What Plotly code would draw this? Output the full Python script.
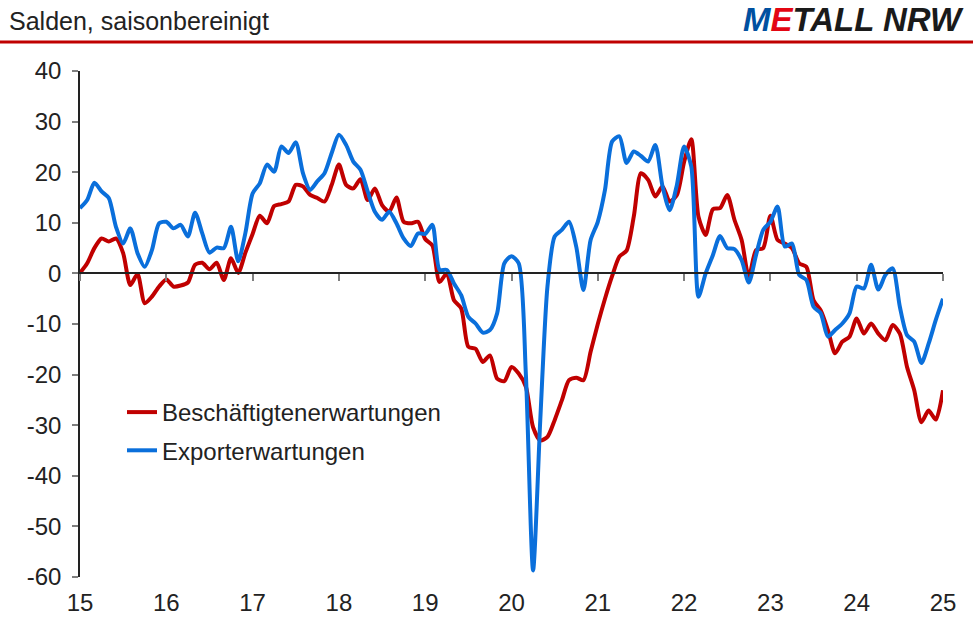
import plotly.graph_objects as go

# monthly observations Jan 2015 .. Jan 2025
start_year = 15
beschaeftigung = [
    0.1, 2.0, 5.0, 6.9, 6.3, 6.9, 4.0, -2.3, -0.1, -5.9, -4.6, -2.6,
    -1.2, -2.6, -2.4, -1.8, 1.7, 2.1, 0.8, 2.1, -1.3, 3.0, 0.1, 4.1,
    7.8, 11.4, 9.9, 13.3, 13.7, 14.2, 17.5, 17.2, 15.5, 14.9, 14.2, 17.5,
    21.5, 17.5, 16.8, 18.6, 14.5, 16.8, 13.5, 12.2, 15.0, 10.2, 9.9, 10.2,
    6.8, 5.5, -1.7, 0.0, -5.3, -6.9, -14.5, -14.9, -17.5, -16.2, -20.8, -21.3,
    -18.5, -19.8, -22.4, -30.4, -33.0, -32.3, -29.0, -25.1, -21.1, -20.6, -21.1, -15.5,
    -10.0, -5.0, -0.5, 3.3, 4.5, 11.2, 19.8, 18.5, 15.2, 17.2, 14.2, 15.5,
    22.0, 26.5, 11.2, 7.6, 12.7, 12.9, 15.5, 10.6, 6.6, -0.7, 4.6, 5.0,
    11.4, 6.6, 5.9, 5.0, 2.0, 1.3, -5.3, -7.3, -11.2, -15.8, -13.5, -12.5,
    -8.9, -11.9, -9.9, -11.9, -13.2, -10.2, -11.9, -18.5, -23.1, -29.4, -27.1, -28.9,
    -23.1,
]
export = [
    12.9, 14.5, 17.9, 16.2, 14.9, 9.2, 5.9, 8.9, 4.0, 1.3, 4.6, 9.9,
    10.2, 8.9, 9.6, 7.3, 12.0, 7.9, 4.1, 5.1, 5.0, 9.2, 2.4, 8.0,
    15.8, 17.8, 21.5, 20.1, 25.1, 23.8, 25.9, 19.8, 16.5, 18.2, 19.8, 23.8,
    27.4, 25.4, 22.1, 20.5, 16.2, 12.2, 10.6, 12.2, 9.9, 6.9, 5.4, 7.9,
    7.8, 9.6, 0.7, 0.7, -2.0, -4.3, -8.6, -9.9, -11.7, -11.2, -7.9, 2.0,
    3.4, 2.0, -20.0, -58.7, -29.0, -2.6, 7.3, 8.6, 10.2, 5.3, -3.3, 6.6,
    10.2, 16.5, 26.1, 27.1, 21.8, 24.1, 23.2, 22.1, 25.4, 17.2, 12.5, 17.5,
    25.1, 21.1, -4.6, 0.0, 3.6, 7.4, 5.0, 4.8, 2.6, -1.8, 3.6, 8.6,
    10.2, 13.2, 5.3, 5.9, -0.3, -1.3, -6.6, -7.9, -12.5, -11.2, -9.9, -7.9,
    -2.6, -3.0, 1.7, -3.2, -0.3, 1.0, -6.6, -12.2, -13.5, -17.7, -13.9, -9.2,
    -5.0,
]
year_ticks = list(range(15, 26))
year_labels = [str(y) for y in year_ticks]
y_ticks = list(range(-60, 41, 10))
y_labels = [str(v) for v in y_ticks]  # plain hyphen-minus like the original
series_names = ["Beschäftigtenerwartungen", "Exporterwartungen"]

x = [start_year + i / 12 for i in range(len(export))]

RED = "#C00000"
BLUE = "#0A6FDB"
FONT = "Liberation Sans, Arial, sans-serif"

fig = go.Figure()
fig.add_trace(go.Scatter(x=x, y=beschaeftigung, name=series_names[0], mode="lines",
                         legendgroup="a",
                         line=dict(color=RED, width=4, shape="spline", smoothing=0.7)))
fig.add_trace(go.Scatter(x=x, y=export, name=series_names[1], mode="lines",
                         legendgroup="b",
                         line=dict(color=BLUE, width=4, shape="spline", smoothing=0.7)))
# invisible trace to carry the zero-line axis
fig.add_trace(go.Scatter(x=[year_ticks[0]], y=[0], xaxis="x2", mode="lines",
                         showlegend=False, hoverinfo="skip", line=dict(width=0)))

ymin, ymax = -60, 40
fig.update_layout(
    width=973, height=617,
    margin=dict(l=80, r=30, t=71, b=40),
    paper_bgcolor="white", plot_bgcolor="white",
    font=dict(family=FONT, size=24, color="#222222"),
    xaxis=dict(range=[15, 25], tickvals=year_ticks, ticktext=year_labels,
               showline=False, ticks="", showgrid=False, zeroline=False,
               automargin=False, ticklabelstandoff=9, tickfont=dict(size=24)),
    xaxis2=dict(range=[15, 25], overlaying="x", anchor="free",
                position=(0 - ymin) / (ymax - ymin), side="bottom",
                showline=True, linecolor="#222222", linewidth=1.5,
                ticks="outside", ticklen=7, tickwidth=1.5, tickcolor="#7f7f7f",
                tickvals=year_ticks, showticklabels=False, showgrid=False, zeroline=False),
    yaxis=dict(range=[ymin, ymax], tickvals=y_ticks, ticktext=y_labels,
               showline=True, linecolor="#222222", linewidth=1.5, automargin=False,
               ticks="outside", ticklen=6, tickcolor="#7f7f7f", tickwidth=1.5,
               ticklabelstandoff=6,
               showgrid=False, zeroline=False, tickfont=dict(size=24)),
    legend=dict(x=(122 - 80) / 863, y=(577 - 390) / 506, xanchor="left", yanchor="top",
                bgcolor="rgba(0,0,0,0)", font=dict(size=24), tracegroupgap=4,
                traceorder="grouped"),
    showlegend=True,
)

# header
fig.add_annotation(xref="paper", yref="paper", x=(7 - 80) / 863, y=(577 - 21) / 506,
                   xanchor="left", yanchor="middle", showarrow=False,
                   text="Salden, saisonbereinigt", font=dict(size=25, color="#222222"))
fig.add_annotation(xref="paper", yref="paper", x=(966 - 80) / 863, y=(577 - 20) / 506,
                   xanchor="right", yanchor="middle", showarrow=False,
                   text="<b><i><span style='color:#0050A0'>M</span><span style='color:#E30613'>E</span>"
                        "<span style='color:#1a1a1a'>TALL NRW</span></i></b>",
                   font=dict(size=33, family="Liberation Sans Narrow, Arial Narrow, sans-serif"))
fig.add_shape(type="line", xref="paper", yref="paper",
              x0=-80 / 863, x1=(973 - 80) / 863, y0=(577 - 42) / 506, y1=(577 - 42) / 506,
              line=dict(color="#C00000", width=3))

fig.write_html("out.html", config={"displayModeBar": False},
               post_script="document.body.style.margin='0';document.body.style.padding='0';")
